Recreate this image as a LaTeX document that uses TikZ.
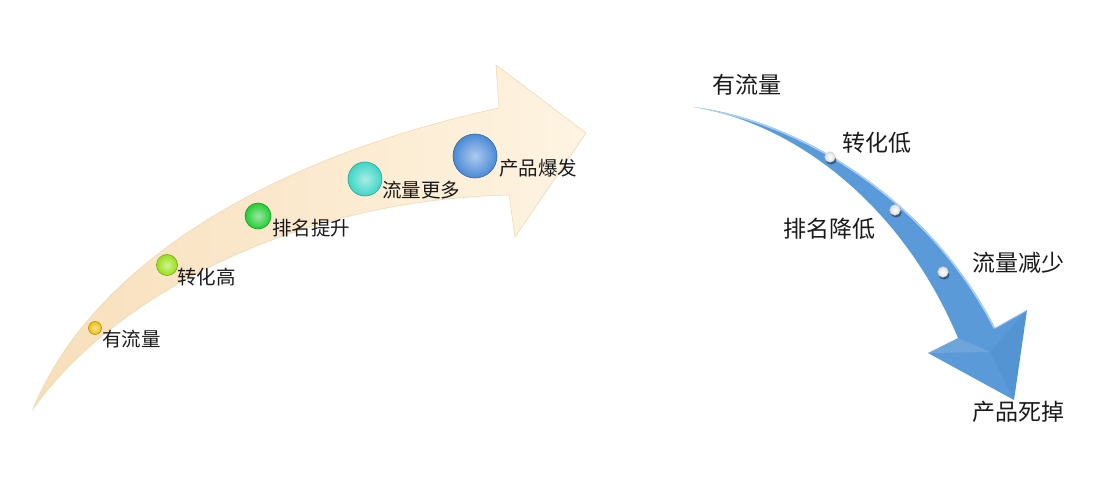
\documentclass[tikz,border=0pt]{standalone}
\usepackage{fontspec}
\newfontfamily\cjk{Noto Sans CJK SC}
\definecolor{creamA}{HTML}{F8DFBB}
\definecolor{creamB}{HTML}{FEF4E2}
\definecolor{creamE}{HTML}{F0D9B2}
\definecolor{blueM}{HTML}{5A9AD8}
\definecolor{blueD}{HTML}{4A88C8}
\definecolor{blueL}{HTML}{A8D0F5}
\definecolor{ballY}{HTML}{F0C010}
\definecolor{ballYG}{HTML}{98E018}
\definecolor{ballG}{HTML}{22CC33}
\definecolor{ballT}{HTML}{3ED6C6}
\definecolor{ballB}{HTML}{4A8AD6}
\definecolor{txt}{HTML}{1A1A1A}
\begin{document}
\begin{tikzpicture}[x=1pt,y=-1pt,
  lbl/.style={anchor=west,inner sep=0pt,text=txt,font=\cjk\fontsize{19.5}{20}\selectfont},
  rlbl/.style={anchor=west,inner sep=0pt,text=txt,font=\cjk\fontsize{23}{24}\selectfont},
  gem/.style={inner color=#1!45!white,outer color=#1,draw=#1!75!black,line width=0.6pt},
  wdot/.style={inner color=white,outer color=white!75!gray,draw=white!60!gray,line width=0.4pt}]
\path[use as bounding box] (0,0) rectangle (1105,500);
\fill[white] (0,0) rectangle (1105,500);
% ---------- left rising arrow ----------
\path[left color=creamA,right color=creamB,draw=creamE,line width=0.6pt]
  (33,409) .. controls (90,270) and (260,160) .. (499,108)
  -- (496,65) -- (586,133) -- (515,237) -- (509,195)
  .. controls (290,200) and (110,300) .. (33,409) -- cycle;
% balls
\shade[gem=ballY]  (95,328)  circle (6.5);
\shade[gem=ballYG] (167,265) circle (10.5);
\shade[gem=ballG]  (258,216) circle (13);
\shade[gem=ballT]  (365,179) circle (17);
\shade[gem=ballB]  (475,156) circle (22);
% labels
\node[lbl] (l1) at (102,339) {有流量};
\node[lbl] (l2) at (177,277) {转化高};
\node[lbl] (l3) at (272,228) {排名提升};
\node[lbl] (l4) at (382,190) {流量更多};
\node[lbl] (l5) at (499,168) {产品爆发};
% ---------- right falling arrow ----------
\begin{scope}
\path[clip]
  (693,107) .. controls (800,120) and (930,200) .. (995,328)
  -- (1027,310) -- (1014,400) -- (928,353) -- (958,338)
  .. controls (900,200) and (790,122) .. (693,107) -- cycle;
\fill[blueM] (680,60) rectangle (1040,410);
% head facets
\fill[blueD,opacity=0.3] (1027,310) -- (1014,400) -- (990,352) -- cycle;
\fill[white,opacity=0.12] (928,353) -- (958,338) -- (990,352) -- cycle;
% highlight along outer edge
\draw[blueL,line width=3pt]
  (693,107) .. controls (800,120) and (930,200) .. (995,328);
\draw[blueL,line width=1.6pt,opacity=0.7] (995,328) -- (1027,310);
\end{scope}
% dots
\fill[black!70!blueD,opacity=0.55] (831,160) ellipse (5.5 and 4.5);
\fill[black!70!blueD,opacity=0.55] (896,213) ellipse (5.5 and 4.5);
\fill[black!70!blueD,opacity=0.55] (944,275) ellipse (5.5 and 4.5);
\shade[wdot] (830,157) circle (5.3);
\shade[wdot] (895,210) circle (5.3);
\shade[wdot] (943,272) circle (5.3);
% labels
\node[rlbl] (r1) at (712,85)  {有流量};
\node[rlbl] (r2) at (842,143) {转化低};
\node[rlbl] (r3) at (783,229) {排名降低};
\node[rlbl] (r4) at (972,263) {流量减少};
\node[rlbl] (r5) at (972,412) {产品死掉};
\end{tikzpicture}
\end{document}
